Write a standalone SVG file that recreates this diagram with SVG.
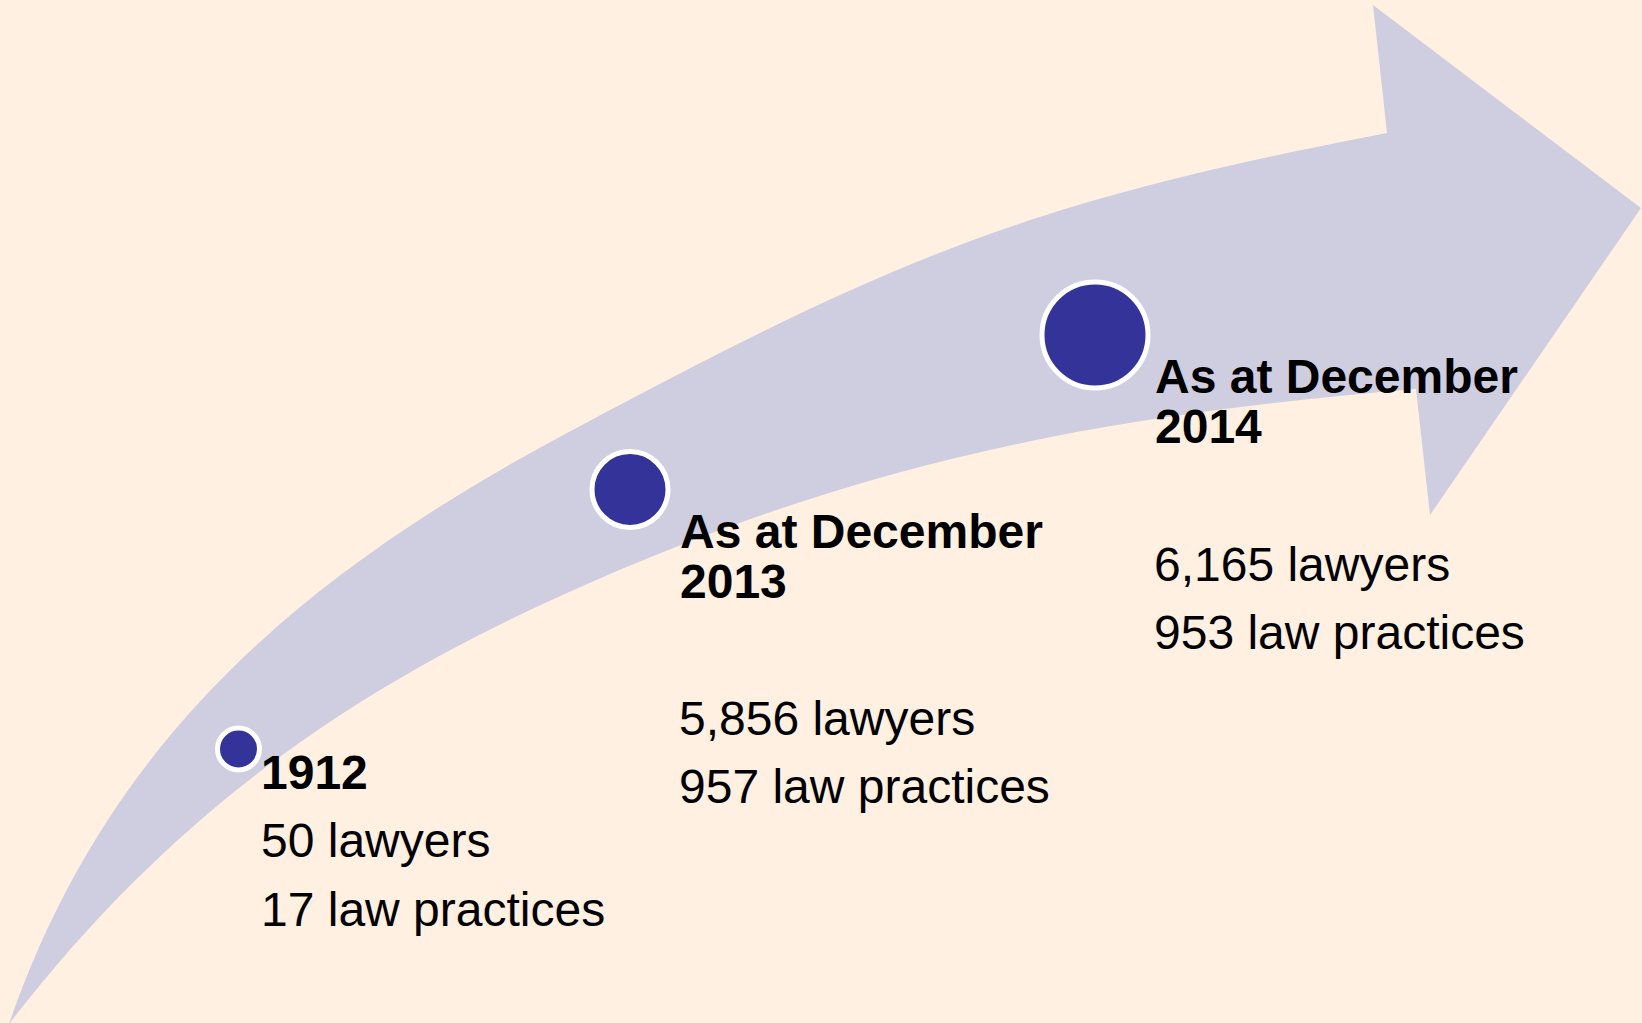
<svg xmlns="http://www.w3.org/2000/svg" width="1642" height="1023" viewBox="0 0 1642 1023">
<style>
.t{font-family:"Liberation Sans",Arial,sans-serif;font-size:48px;fill:#000}
.b{font-weight:bold}
.dot{fill:#333399;stroke:#fff;stroke-width:5}
</style>
<rect width="1642" height="1023" fill="#FFF0E2"/>
<g id="connectors">
<path id="arrow" fill="#CECEE0" d="M9,1024 C107.5,739.2 302.4,574.3 567,433 C893.3,258.7 1023.7,202.6 1387,133 L1373,5 L1641,208 L1430,515 L1416,389 C1097.1,415.7 858.8,461.8 567,593 C366.4,683.2 180.8,801 9,1024 Z"/>
</g>
<g id="node-1912">
<circle class="dot" cx="238.5" cy="749" r="21"/>
<text class="t b" x="261" y="789">1912</text>
<text class="t" x="261" y="857">50 lawyers</text>
<text class="t" x="261" y="926">17 law practices</text>
</g>
<g id="node-2013">
<circle class="dot" cx="630" cy="489.5" r="38"/>
<text class="t b" x="680" y="547.5">As at December</text>
<text class="t b" x="680" y="597.5">2013</text>
<text class="t" x="679" y="735">5,856 lawyers</text>
<text class="t" x="679" y="803">957 law practices</text>
</g>
<g id="node-2014">
<circle class="dot" cx="1095" cy="335" r="53"/>
<text class="t b" x="1155" y="393">As at December</text>
<text class="t b" x="1155" y="443">2014</text>
<text class="t" x="1154" y="581">6,165 lawyers</text>
<text class="t" x="1154" y="649">953 law practices</text>
</g>
</svg>
